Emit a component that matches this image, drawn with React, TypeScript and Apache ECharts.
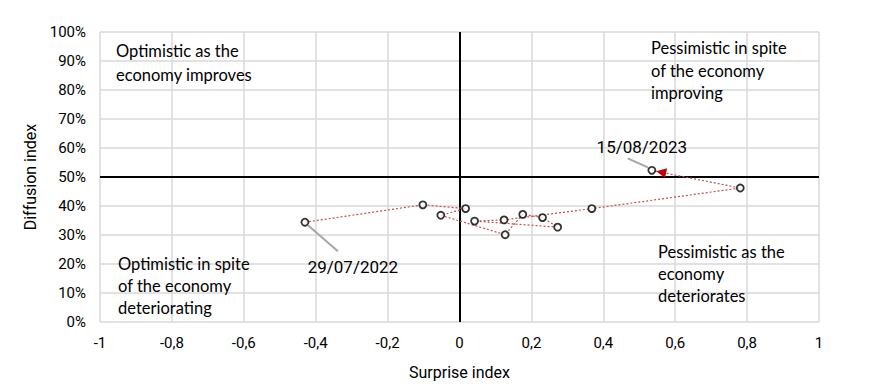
import React, { useEffect, useRef } from "react";
import * as echarts from "echarts";

// Monthly observations, from 29/07/2022 to 15/08/2023, in chronological order
const surpriseIndex = [-0.43, -0.102, 0.017, -0.052, 0.127, 0.176, 0.231, 0.273, 0.042, 0.124, 0.368, 0.781, 0.535];
const diffusionIndex = [34.4, 40.4, 39.1, 36.8, 30.1, 37.1, 36.0, 32.7, 34.8, 35.2, 39.1, 46.2, 52.3];
const firstDate = "29/07/2022";
const lastDate = "15/08/2023";

const xAxisName = "Surprise index";
const yAxisName = "Diffusion index";

const quadrantTexts = [
  "Optimistic as the\neconomy improves",
  "Pessimistic in spite\nof the economy\nimproving",
  "Optimistic in spite\nof the economy\ndeteriorating",
  "Pessimistic as the\neconomy\ndeteriorates",
];

const NARROW = 'Roboto, "Liberation Sans", sans-serif';
const QUAD_FONT = 'Lato, "Open Sans", sans-serif';

export default function App() {
  const ref = useRef<HTMLDivElement>(null);
  useEffect(() => {
    if (!ref.current) return;
    const chart = echarts.init(ref.current, null, { renderer: "svg" });
    const points = surpriseIndex.map((x, i) => [x, diffusionIndex[i]]);
    chart.setOption({
      animation: false,
      backgroundColor: "#fff",
      grid: { left: 100, right: 59, top: 32, bottom: 68 },
      xAxis: {
        type: "value",
        min: -1,
        max: 1,
        interval: 0.2,
        name: xAxisName,
        nameLocation: "middle",
        nameGap: 42,
        nameTextStyle: { fontFamily: NARROW, fontSize: 16, color: "#000" },
        axisLine: { show: false },
        axisTick: { show: false },
        axisLabel: {
          margin: 13,
          fontFamily: NARROW,
          fontSize: 15,
          color: "#000",
          formatter: (v: number) => String(Math.round(v * 10) / 10).replace(".", ","),
        },
        splitLine: { show: true, lineStyle: { color: "#d9d9d9", width: 1.5 } },
      },
      yAxis: {
        type: "value",
        min: 0,
        max: 100,
        interval: 10,
        name: yAxisName,
        nameLocation: "middle",
        nameGap: 62,
        nameRotate: 90,
        nameTextStyle: { fontFamily: NARROW, fontSize: 16, color: "#000" },
        axisLine: { show: false },
        axisTick: { show: false },
        axisLabel: { margin: 14, fontFamily: NARROW, fontSize: 15, color: "#000", formatter: "{value}%" },
        splitLine: { show: true, lineStyle: { color: "#d9d9d9", width: 1.5 } },
      },
      series: [
        {
          type: "line",
          data: points,
          showSymbol: false,
          symbol: "none",
          lineStyle: { color: "#c0504d", width: 1.2, type: [2, 2] },
          z: 3,
          markLine: {
            silent: true,
            symbol: "none",
            label: { show: false },
            lineStyle: { color: "#000", width: 2, type: "solid" },
            data: [{ yAxis: 50 }, { xAxis: 0 }],
            z: 2,
          },
        },
        {
          type: "scatter",
          data: points,
          symbol: "circle",
          symbolSize: 7,
          itemStyle: { color: "#fff", borderColor: "#000", borderWidth: 1.8 },
          z: 5,
        },
      ],
    });

    const px = (i: number) => chart.convertToPixel({ gridIndex: 0 }, points[i]) as number[];
    const n = points.length;
    const pEnd = px(n - 1);
    const pPrev = px(n - 2);
    const dx = pEnd[0] - pPrev[0];
    const dy = pEnd[1] - pPrev[1];
    const len = Math.sqrt(dx * dx + dy * dy);
    const ux = dx / len;
    const uy = dy / len;
    const tip = [pEnd[0] - ux * 4.5, pEnd[1] - uy * 4.5];
    const base = [tip[0] - ux * 10, tip[1] - uy * 10];
    const arrow = [
      tip,
      [base[0] - uy * 5, base[1] + ux * 5],
      [base[0] + uy * 5, base[1] - ux * 5],
    ];
    const p0 = px(0);

    chart.setOption({
      graphic: [
        { type: "polygon", shape: { points: arrow }, style: { fill: "#c00000" }, z: 4 },
        {
          type: "line",
          shape: { x1: pEnd[0] - 24, y1: pEnd[1] - 12, x2: pEnd[0] - 4, y2: pEnd[1] - 3 },
          style: { stroke: "#a6a6a6", lineWidth: 2 },
          z: 4,
        },
        {
          type: "text",
          x: pEnd[0] - 10,
          y: pEnd[1] - 23,
          style: { text: lastDate, fontFamily: NARROW, fontSize: 17, fill: "#000", align: "center", verticalAlign: "middle" },
          z: 6,
        },
        {
          type: "line",
          shape: { x1: p0[0] + 3, y1: p0[1] + 3, x2: p0[0] + 33, y2: p0[1] + 29 },
          style: { stroke: "#a6a6a6", lineWidth: 2 },
          z: 4,
        },
        {
          type: "text",
          x: p0[0] + 48,
          y: p0[1] + 45,
          style: { text: firstDate, fontFamily: NARROW, fontSize: 17, fill: "#000", align: "center", verticalAlign: "middle" },
          z: 6,
        },
        {
          type: "text", x: 116, y: 39,
          style: { text: quadrantTexts[0], fontFamily: QUAD_FONT, fontSize: 16.5, lineHeight: 24, fill: "#000", verticalAlign: "top" },
          z: 6,
        },
        {
          type: "text", x: 651, y: 37,
          style: { text: quadrantTexts[1], fontFamily: QUAD_FONT, fontSize: 16.5, lineHeight: 22.5, fill: "#000", verticalAlign: "top" },
          z: 6,
        },
        {
          type: "text", x: 118, y: 253,
          style: { text: quadrantTexts[2], fontFamily: QUAD_FONT, fontSize: 16.5, lineHeight: 22, fill: "#000", verticalAlign: "top" },
          z: 6,
        },
        {
          type: "text", x: 658, y: 241,
          style: { text: quadrantTexts[3], fontFamily: QUAD_FONT, fontSize: 16.5, lineHeight: 22, fill: "#000", verticalAlign: "top" },
          z: 6,
        },
      ],
    });

    return () => chart.dispose();
  }, []);

  return (
    <div
      ref={ref}
      style={{ position: "fixed", left: 0, top: 0, width: 878, height: 390, background: "#fff" }}
    />
  );
}
